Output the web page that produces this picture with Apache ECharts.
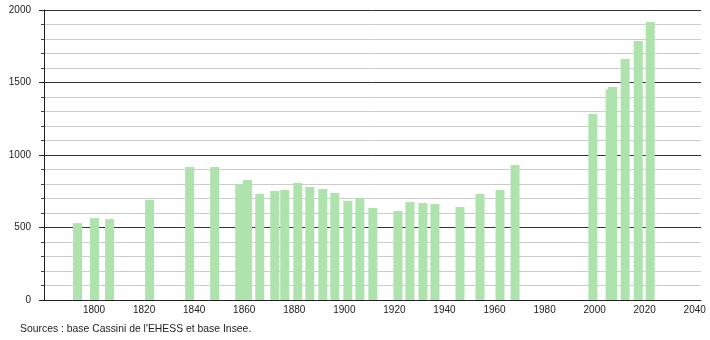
<!DOCTYPE html>
<html>
<head>
<meta charset="utf-8">
<script src="https://cdn.jsdelivr.net/npm/echarts@6/dist/echarts.min.js"></script>
<style>
html,body{margin:0;padding:0;background:#fff;}
#chart{width:710px;height:340px;}
</style>
</head>
<body>
<div id="chart"></div>
<script>
// Bar positions (years) and population values
const years = [1793.4, 1800.2, 1806.2, 1822.2, 1838.2, 1848.2, 1858.2, 1861.3, 1866.2, 1872.2,
  1876.2, 1881.4, 1886.2, 1891.4, 1896.2, 1901.4, 1906.2, 1911.4, 1921.4, 1926.2,
  1931.4, 1936.2, 1946.2, 1954.2, 1962.2, 1968.2, 1999.3, 2006.2, 2007.2, 2012.2,
  2017.4, 2022.2];
const population = [530, 565, 558, 692, 917, 917, 798, 828, 731, 752,
  759, 807, 779, 765, 738, 685, 703, 634, 614, 676,
  669, 662, 641, 731, 759, 931, 1283, 1453, 1469, 1662,
  1786, 1917];
const xTickLabels = [1800, 1820, 1840, 1860, 1880, 1900, 1920, 1940, 1960, 1980, 2000, 2020, 2040];
const yTickLabels = [0, 500, 1000, 1500, 2000];
const sourceText = "Sources : base Cassini de l'EHESS et base Insee.";

const data = years.map((y, i) => [y, population[i]]);
const chart = echarts.init(document.getElementById('chart'), null, {renderer: 'canvas'});
const font = 'Liberation Sans, Arial, sans-serif';
chart.setOption({
  animation: false,
  backgroundColor: '#ffffff',
  grid: {left: 44, right: 9, top: 10, bottom: 40, containLabel: false},
  xAxis: {
    type: 'value', min: 1780, max: 2042.5, interval: 20,
    axisLine: {show: true, onZero: false, lineStyle: {color: '#222', width: 1}},
    axisTick: {show: false},
    splitLine: {show: false},
    axisLabel: {
      margin: 5, color: '#222', fontSize: 10, fontFamily: font,
      showMinLabel: true, showMaxLabel: true,
      formatter: v => xTickLabels.includes(v) ? String(v) : ''
    }
  },
  yAxis: {
    type: 'value', min: 0, max: 2000, interval: 500,
    axisLine: {show: true, lineStyle: {color: '#222', width: 1}},
    axisTick: {show: true, length: 5, lineStyle: {color: '#222'}},
    minorTick: {show: true, splitNumber: 5, length: 3, lineStyle: {color: '#444'}},
    splitLine: {show: true, lineStyle: {color: '#333', width: 1}},
    minorSplitLine: {show: true, lineStyle: {color: '#cccccc', width: 1}},
    axisLabel: {
      margin: 13, color: '#222', fontSize: 10, fontFamily: font,
      formatter: v => yTickLabels.includes(v) ? String(v) : ''
    }
  },
  series: [{
    type: 'bar',
    data: data,
    barWidth: 9,
    itemStyle: {color: '#aee3ae'},
    emphasis: {disabled: true},
    z: 3
  }],
  graphic: [{
    type: 'text', left: 20, top: 324,
    style: {text: sourceText, fill: '#222', font: '10.4px ' + font}
  }]
});
</script>
</body>
</html>
